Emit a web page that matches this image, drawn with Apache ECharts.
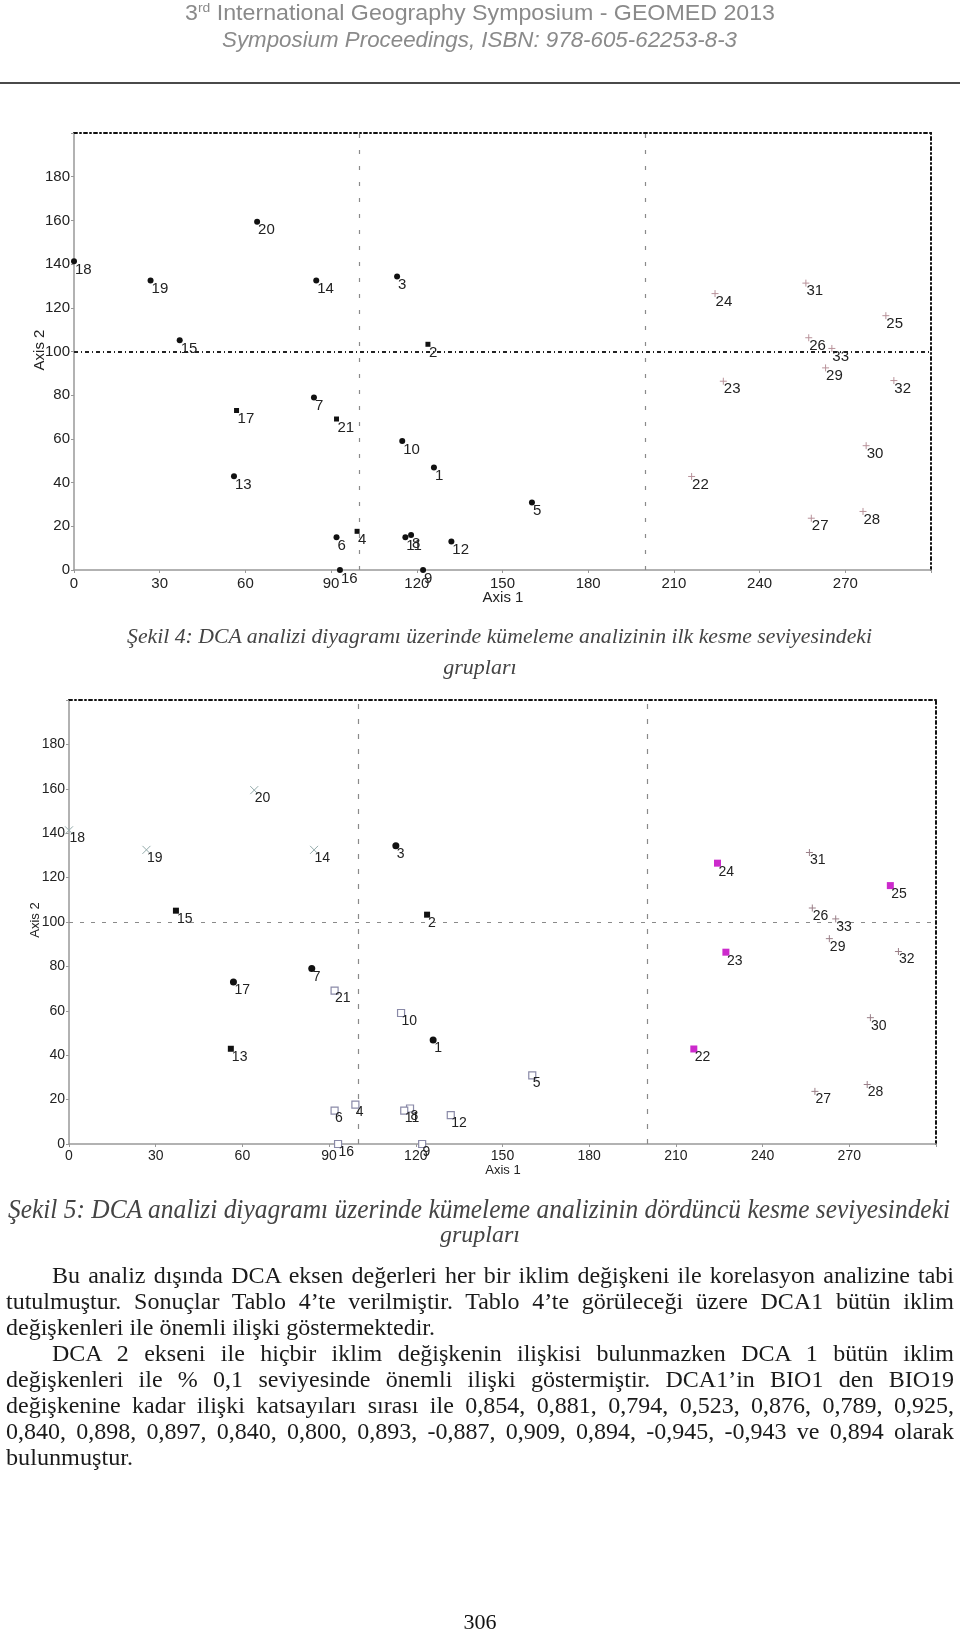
<!DOCTYPE html>
<html><head><meta charset="utf-8">
<script src="https://cdn.jsdelivr.net/npm/echarts@6/dist/echarts.min.js"></script>
<style>
html,body{margin:0;padding:0;background:#fff;}
#page{position:relative;width:960px;height:1631px;overflow:hidden;background:#fff;}
#chart{position:absolute;left:0;top:0;width:960px;height:1631px;}
.t{position:absolute;white-space:nowrap;transform-origin:0 50%;}
#rule{position:absolute;left:0;top:82px;width:960px;height:2px;background:#4a4a4a;}
</style></head><body>
<div id="page"><div id="rule"></div><div id="chart"></div></div>
<script>
// ---------------- data ----------------
const siteIds = [1,2,3,4,5,6,7,8,9,10,11,12,13,14,15,16,17,18,19,20,21,22,23,24,25,26,27,28,29,30,31,32,33];
const axis1Scores = [126.0,123.9,113.1,99.1,160.3,91.9,84.0,118.0,122.2,114.9,116.0,132.1,56.0,84.8,37.0,93.1,56.9,0.0,26.8,64.1,91.9,216.2,227.3,224.4,284.2,257.2,258.1,276.2,263.1,277.3,256.2,287.0,265.3];
const axis2Scores = [46.9,103.3,134.3,17.7,30.9,15.0,79.0,16.0,0.0,59.0,15.0,13.0,42.9,132.5,105.1,0.0,73.0,141.3,132.5,159.4,69.1,42.8,86.4,126.5,116.4,106.3,23.7,26.8,92.5,56.9,131.3,86.7,101.4];
// group of each site at first cut level (Şekil 4) and fourth cut level (Şekil 5)
const fig4Group = [0,1,0,1,0,0,0,0,0,0,0,0,0,0,0,0,1,0,0,0,1,2,2,2,2,2,2,2,2,2,2,2,2];
const fig5Group = [0,1,0,3,3,3,0,3,3,3,3,3,1,2,1,3,0,2,2,2,3,4,4,4,4,5,5,5,5,5,5,5,5];
const xTickValues = [0,30,60,90,120,150,180,210,240,270];
const yTickValues = [0,20,40,60,80,100,120,140,160,180];
const refX = [100,200];
const refY = [100];

// ---------------- styles ----------------
const PLUS = 'path://M5,0L5,10M0,5L10,5';
const CROSS = 'path://M0,0L10,10M10,0L0,10';
const fig4Styles = [
  {symbol:'circle', size:6, color:'#111', border:'#111', bw:0},
  {symbol:'rect', size:5, color:'#111', border:'#111', bw:0},
  {symbol:PLUS, size:7, color:'rgba(0,0,0,0)', border:'#b9939b', bw:1}
];
const fig5Styles = [
  {symbol:'circle', size:7, color:'#111', border:'#111', bw:0},
  {symbol:'rect', size:6, color:'#111', border:'#111', bw:0},
  {symbol:CROSS, size:8, color:'rgba(0,0,0,0)', border:'#93aaaa', bw:1},
  {symbol:'rect', size:7, color:'#fff', border:'#8a8aa8', bw:1.2},
  {symbol:'rect', size:7, color:'#cc2acc', border:'#cc2acc', bw:0},
  {symbol:PLUS, size:7, color:'rgba(0,0,0,0)', border:'#9a7f88', bw:1}
];

const grids = [
  {left:74, top:133, width:857, height:437},
  {left:69, top:700, width:867, height:444}
];
const tickFont = [15, 14];
const ptFont = [15, 14];
const labelMargin = [[6,4],[5,4]];

function fmt(list){ return function(v){ return list.indexOf(v) >= 0 ? String(v) : ''; }; }

const xAxes = [], yAxes = [], series = [];
[0,1].forEach(function(g){
  xAxes.push({gridIndex:g, type:'value', position:'bottom', min:0, max:300, interval:30,
    axisLine:{show:true, onZero:false, lineStyle:{color:'#999', width:1.5}},
    axisTick:{show:true, length:3, lineStyle:{color:'#999'}},
    axisLabel:{show:true, margin:labelMargin[g][0], color:'#222', fontSize:tickFont[g], fontFamily:'Liberation Sans', formatter:fmt(xTickValues)},
    splitLine:{show:false}});
  xAxes.push({gridIndex:g, type:'value', position:'top', min:0, max:300, interval:30,
    axisLine:{show:true, onZero:false, lineStyle:{color:'#111', width:2, type:[3,3,1,3]}},
    axisTick:{show:false}, axisLabel:{show:false}, splitLine:{show:false}});
  yAxes.push({gridIndex:g, type:'value', position:'left', min:0, max:200, interval:20,
    axisLine:{show:true, onZero:false, lineStyle:{color:'#999', width:1.5}},
    axisTick:{show:true, length:3, lineStyle:{color:'#999'}},
    axisLabel:{show:true, margin:labelMargin[g][1], color:'#222', fontSize:tickFont[g], fontFamily:'Liberation Sans', formatter:fmt(yTickValues)},
    splitLine:{show:false}});
  yAxes.push({gridIndex:g, type:'value', position:'right', min:0, max:200, interval:20,
    axisLine:{show:true, onZero:false, lineStyle:{color:'#111', width:2, type:[3,3,1,3]}},
    axisTick:{show:false}, axisLabel:{show:false}, splitLine:{show:false}});

  const groups = g === 0 ? fig4Group : fig5Group;
  const styles = g === 0 ? fig4Styles : fig5Styles;
  styles.forEach(function(st, k){
    const data = [];
    siteIds.forEach(function(id, i){ if (groups[i] === k) data.push([axis1Scores[i], axis2Scores[i], id]); });
    const s = {
      type:'scatter', xAxisIndex:g*2, yAxisIndex:g*2, symbol:st.symbol, symbolSize:st.size,
      itemStyle:{color:st.color, borderColor:st.border, borderWidth:st.bw, opacity:1},
      label:{show:true, position:[st.size/2 + 1, st.size/2 + 8.5], align:'left', verticalAlign:'middle',
        formatter:function(p){ return p.value[2]; }, color:'#222', fontSize:ptFont[g], fontFamily:'Liberation Sans'},
      emphasis:{disabled:true}, z:5, data:data
    };
    if (k === 0) {
      const ml = [];
      refX.forEach(function(v){ ml.push({xAxis:v, lineStyle:{color:'#8a8a8a', width:1.2, type:g===0?[4,12]:[5,10]}}); });
      refY.forEach(function(v){ ml.push({yAxis:v, lineStyle: g===0 ? {color:'#222', width:2, type:[4,3,1,3]} : {color:'#8a8a8a', width:1, type:[4,7]}}); });
      s.markLine = {silent:true, symbol:['none','none'], label:{show:false}, animation:false, data:ml};
    }
    series.push(s);
  });
});

const axisNames = [
  {text:'Axis 1', x:503, y:598, rot:0, size:15},
  {text:'Axis 2', x:40, y:350, rot:Math.PI/2, size:15},
  {text:'Axis 1', x:503, y:1170, rot:0, size:13},
  {text:'Axis 2', x:35, y:920, rot:Math.PI/2, size:13}
];

const chart = echarts.init(document.getElementById('chart'), null, {renderer:'canvas'});
chart.setOption({
  animation:false,
  backgroundColor:'transparent',
  grid:grids,
  xAxis:xAxes,
  yAxis:yAxes,
  series:series,
  graphic:axisNames.map(function(a){ return {type:'text', x:a.x, y:a.y, rotation:a.rot,
    style:{text:a.text, fill:'#222', font:a.size+'px "Liberation Sans"', align:'center', verticalAlign:'middle'}}; })
});

// ---------------- page text ----------------
const SERIF = '"Liberation Serif", "Times New Roman", serif';
const HEAD = '"Liberation Sans Narrow", "Liberation Sans", sans-serif';
const textLines = [
  {html:'3<sup style="font-size:0.6em;line-height:0">rd</sup> International Geography Symposium - GEOMED 2013', left:185, right:775, cy:12.5, size:22, font:HEAD, italic:false, color:'#8a8a8a', mode:'fit'},
  {html:'Symposium Proceedings, ISBN: 978-605-62253-8-3', left:222, right:737, cy:39.5, size:22, font:HEAD, italic:true, color:'#8a8a8a', mode:'fit'},
  {html:'Şekil 4: DCA analizi diyagramı üzerinde kümeleme analizinin ilk kesme seviyesindeki', left:127, right:872, cy:635.5, size:22, font:SERIF, italic:true, color:'#444', mode:'fit'},
  {html:'grupları', cx:480, cy:666.5, size:22, font:SERIF, italic:true, color:'#444', mode:'center'},
  {html:'Şekil 5: DCA analizi diyagramı üzerinde kümeleme analizinin dördüncü kesme seviyesindeki', left:8, right:950, cy:1208.5, size:27, font:SERIF, italic:true, color:'#444', mode:'fit'},
  {html:'grupları', cx:480, cy:1234.5, size:24, font:SERIF, italic:true, color:'#444', mode:'center'},
  {html:'Bu analiz dışında DCA eksen değerleri her bir iklim değişkeni ile korelasyon analizine tabi', left:52, right:954, cy:1275, size:24, font:SERIF, italic:false, color:'#1a1a1a', mode:'justify'},
  {html:'tutulmuştur. Sonuçlar Tablo 4’te verilmiştir. Tablo 4’te görüleceği üzere DCA1 bütün iklim', left:6, right:954, cy:1301, size:24, font:SERIF, italic:false, color:'#1a1a1a', mode:'justify'},
  {html:'değişkenleri ile önemli ilişki göstermektedir.', left:6, right:435, cy:1327, size:24, font:SERIF, italic:false, color:'#1a1a1a', mode:'fit'},
  {html:'DCA 2 ekseni ile hiçbir iklim değişkenin ilişkisi bulunmazken DCA 1 bütün iklim', left:52, right:954, cy:1353, size:24, font:SERIF, italic:false, color:'#1a1a1a', mode:'justify'},
  {html:'değişkenleri ile % 0,1 seviyesinde önemli ilişki göstermiştir. DCA1’in BIO1 den BIO19', left:6, right:954, cy:1379, size:24, font:SERIF, italic:false, color:'#1a1a1a', mode:'justify'},
  {html:'değişkenine kadar ilişki katsayıları sırası ile 0,854, 0,881, 0,794, 0,523, 0,876, 0,789, 0,925,', left:6, right:954, cy:1405, size:24, font:SERIF, italic:false, color:'#1a1a1a', mode:'justify'},
  {html:'0,840, 0,898, 0,897, 0,840, 0,800, 0,893, -0,887, 0,909, 0,894, -0,945, -0,943 ve 0,894 olarak', left:6, right:954, cy:1431, size:24, font:SERIF, italic:false, color:'#1a1a1a', mode:'justify'},
  {html:'bulunmuştur.', left:6, right:133, cy:1457, size:24, font:SERIF, italic:false, color:'#1a1a1a', mode:'fit'},
  {html:'306', cx:480, cy:1622, size:22, font:SERIF, italic:false, color:'#111', mode:'center'}
];
const page = document.getElementById('page');
textLines.forEach(function(L){
  const el = document.createElement('div');
  el.className = 't';
  el.innerHTML = L.html;
  const lh = Math.round(L.size * 1.2);
  el.style.fontFamily = L.font;
  el.style.fontSize = L.size + 'px';
  el.style.fontStyle = L.italic ? 'italic' : 'normal';
  el.style.color = L.color;
  el.style.lineHeight = lh + 'px';
  el.style.top = (L.cy - lh/2) + 'px';
  page.appendChild(el);
  const w = el.getBoundingClientRect().width;
  if (L.mode === 'center') {
    el.style.left = (L.cx - w/2) + 'px';
  } else {
    el.style.left = L.left + 'px';
    const target = L.right - L.left;
    const spaces = (el.textContent.match(/ /g) || []).length;
    if (L.mode === 'justify' && w < target && spaces > 0) {
      el.style.wordSpacing = ((target - w) / spaces) + 'px';
    } else {
      el.style.transform = 'scaleX(' + (target / w) + ')';
    }
  }
});
</script>
</body></html>
